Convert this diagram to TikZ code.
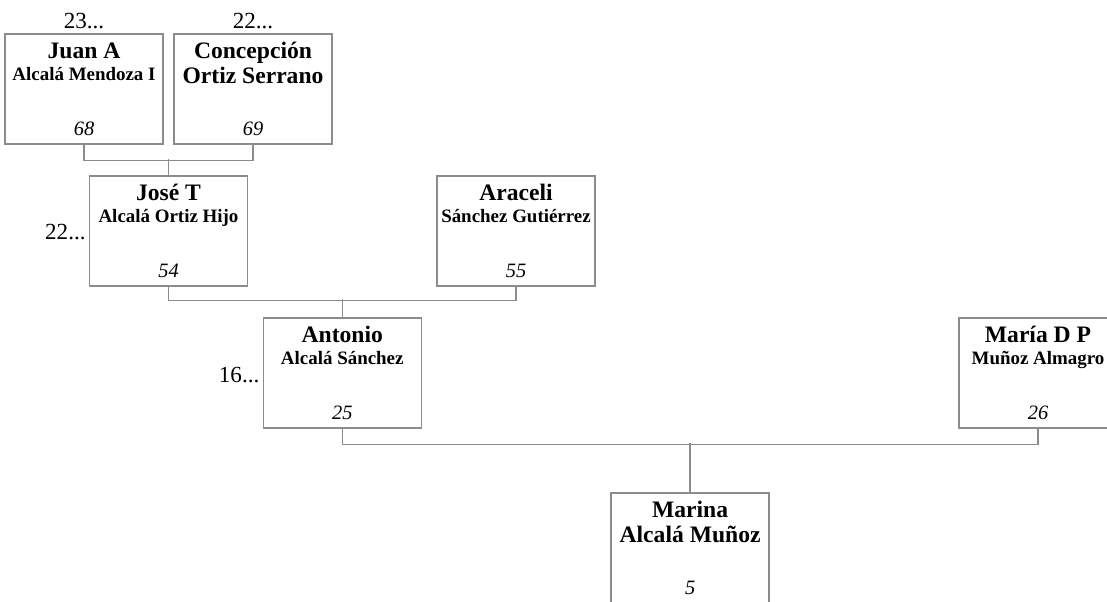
\documentclass[tikz,border=0pt]{standalone}
\usepackage{fontspec}
\setmainfont{Liberation Serif}
\usetikzlibrary{calc}
\definecolor{framegray}{HTML}{8C8C8C}
\newcommand{\psnw}{118.5pt}
\newcommand{\psnh}{82.5pt}
\newcommand{\namefont}{\fontsize{17.7}{20}\selectfont\bfseries}
\newcommand{\surnfont}{\fontsize{14.2}{16}\selectfont\bfseries}
\newcommand{\numfont}{\fontsize{15.3}{17}\selectfont\itshape}
\newcommand{\genfont}{\fontsize{17.3}{20}\selectfont}
\newcommand{\fnoff}{25.5}
\newcommand{\snoff}{47}
\newcommand{\snoffbig}{50.5}
\newcommand{\nroff}{-9}

\begin{document}
\begin{tikzpicture}[x=0.75pt,y=-0.75pt,
    person/.style={draw=framegray,line width=1pt,minimum width=\psnw,
      minimum height=\psnh,inner sep=0pt},
    link/.style={draw=framegray,line width=1pt},
    txt/.style={anchor=base,inner sep=0pt}]
    \useasboundingbox (0,0) rectangle (1107,601);

    \node[person] (juan) at (84,89) {};
    \node[person] (concep) at (253,89) {};
    \node[person] (jose) at (168.5,231) {};
    \node[person] (araceli) at (516,231) {};
    \node[person] (antonio) at (342.25,373) {};
    \node[person] (maria) at (1038,373) {};
    \node[person] (marina) at (690.1,548) {};

    \node[txt,font=\namefont] (juanfn) at ($(juan.north)+(0,\fnoff)$) {Juan A};
    \node[txt,font=\surnfont] (juansn) at ($(juan.north)+(0,\snoff)$)
      {Alcalá Mendoza I};
    \node[txt,font=\numfont] (juannr) at ($(juan.south)+(0,\nroff)$) {68};
    \node[txt,font=\genfont] (juangen) at ($(juan.north)+(0,-5)$) {23...};

    \node[txt,font=\namefont] (concepfn) at ($(concep.north)+(0,\fnoff)$)
      {Concepción};
    \node[txt,font=\namefont] (concepsn) at ($(concep.north)+(0,\snoffbig)$)
      {Ortiz Serrano};
    \node[txt,font=\numfont] (concepnr) at ($(concep.south)+(0,\nroff)$) {69};
    \node[txt,font=\genfont] (concepgen) at ($(concep.north)+(0,-5)$) {22...};

    \node[txt,font=\namefont] (josefn) at ($(jose.north)+(0,\fnoff)$) {José T};
    \node[txt,font=\surnfont] (josesn) at ($(jose.north)+(0,\snoff)$)
      {Alcalá Ortiz Hijo};
    \node[txt,font=\numfont] (josenr) at ($(jose.south)+(0,\nroff)$) {54};
    \node[txt,font=\genfont,anchor=base east] (josegen)
      at ($(jose.west)+(-3,8)$) {22...};

    \node[txt,font=\namefont] (aracelifn) at ($(araceli.north)+(0,\fnoff)$)
      {Araceli};
    \node[txt,font=\surnfont] (aracelisn) at ($(araceli.north)+(0,\snoff)$)
      {Sánchez Gutiérrez};
    \node[txt,font=\numfont] (aracelinr) at ($(araceli.south)+(0,\nroff)$) {55};

    \node[txt,font=\namefont] (antoniofn) at ($(antonio.north)+(0,\fnoff)$)
      {Antonio};
    \node[txt,font=\surnfont] (antoniosn) at ($(antonio.north)+(0,\snoff)$)
      {Alcalá Sánchez};
    \node[txt,font=\numfont] (antonionr) at ($(antonio.south)+(0,\nroff)$) {25};
    \node[txt,font=\genfont,anchor=base east] (antoniogen)
      at ($(antonio.west)+(-3,9)$) {16...};

    \node[txt,font=\namefont] (mariafn) at ($(maria.north)+(0,\fnoff)$)
      {María D P};
    \node[txt,font=\surnfont] (mariasn) at ($(maria.north)+(0,\snoff)$)
      {Muñoz Almagro};
    \node[txt,font=\numfont] (marianr) at ($(maria.south)+(0,\nroff)$) {26};

    \node[txt,font=\namefont] (marinafn) at ($(marina.north)+(0,\fnoff)$)
      {Marina};
    \node[txt,font=\namefont] (marinasn) at ($(marina.north)+(0,\snoffbig)$)
      {Alcalá Muñoz};
    \node[txt,font=\numfont] (marinanr) at ($(marina.south)+(0,\nroff)$) {5};

    \draw[link] (juan.south) -- ++(0,16) -| (concep.south);
    \draw[link] (jose.north) -- ++(0,-16);
    \draw[link] (jose.south) -- ++(0,14) -| (araceli.south);
    \draw[link] (antonio.north) -- ++(0,-18);
    \draw[link] (antonio.south) -- ++(0,16) -| (maria.south);
    \draw[link] (marina.north) -- ++(0,-49);
  \end{tikzpicture}
\end{document}
